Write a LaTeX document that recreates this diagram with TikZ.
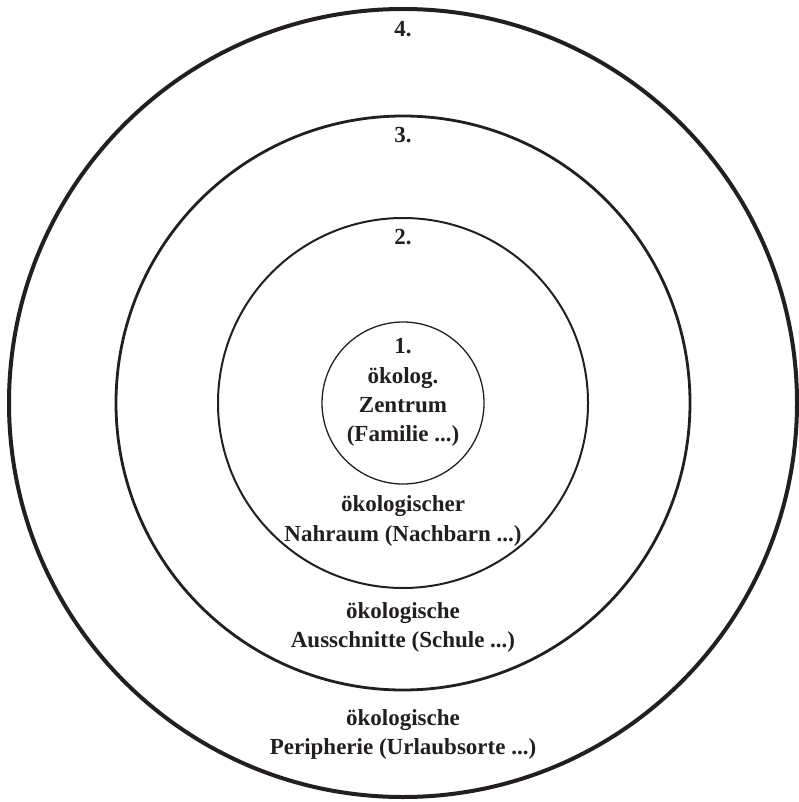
\documentclass[tikz,border=0pt]{standalone}
\usepackage{fontspec}
\setmainfont{Liberation Serif}
\definecolor{ink}{HTML}{231F20}
\begin{document}
\begin{tikzpicture}[x=1pt,y=-1pt,
  ring/.style={draw=ink},
  lbl/.style={anchor=base, inner sep=0pt, text=ink, font=\fontsize{23}{29}\selectfont\bfseries}]
\useasboundingbox (0,0) rectangle (798,802);
\coordinate (c) at (403,403);
\draw[ring, line width=4pt] (c) circle[radius=394pt];
\draw[ring, line width=2.8pt] (c) circle[radius=287pt];
\draw[ring, line width=2pt] (c) circle[radius=185pt];
\draw[ring, line width=1.3pt] (c) circle[radius=81pt];
\node[lbl] (n4) at (403,37) {4.};
\node[lbl] (n3) at (403,143) {3.};
\node[lbl] (n2) at (403,244) {2.};
\node[lbl] (n1) at (403,353) {1.};
\node[lbl] (z1) at (403,383) {ökolog.};
\node[lbl] (z2) at (403,412) {Zentrum};
\node[lbl] (z3) at (403,441) {(Familie ...)};
\node[lbl] (a1) at (403,511) {ökologischer};
\node[lbl] (a2) at (403,541) {Nahraum (Nachbarn ...)};
\node[lbl] (b1) at (403,618) {ökologische};
\node[lbl] (b2) at (403,647) {Ausschnitte (Schule ...)};
\node[lbl] (p1) at (403,725) {ökologische};
\node[lbl] (p2) at (403,754) {Peripherie (Urlaubsorte ...)};
\end{tikzpicture}
\end{document}
